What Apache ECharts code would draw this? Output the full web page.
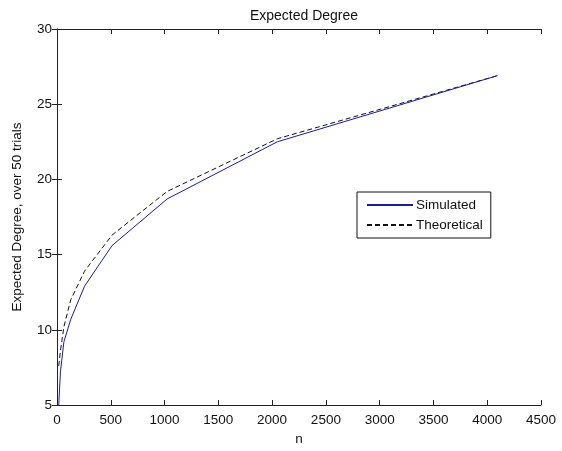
<!DOCTYPE html>
<html>
<head>
<meta charset="utf-8">
<script src="https://cdn.jsdelivr.net/npm/echarts@6/dist/echarts.min.js"></script>
<style>
  html, body { margin: 0; padding: 0; background: #fff; }
  #chart { width: 562px; height: 451px; }
</style>
</head>
<body>
<div id="chart"></div>
<script>
// n values (graph sizes) and the two curves
const nValues = [16, 32, 64, 128, 256, 512, 1024, 2048, 4096];
const simulated = [5.0, 7.2, 9.2, 10.7, 12.9, 15.6, 18.7, 22.5, 26.9];
const theoretical = [7.6, 8.6, 10.2, 12.0, 13.9, 16.3, 19.2, 22.7, 26.9];

const xTicks = { min: 0, max: 4500, interval: 500 };
const yTicks = { min: 5, max: 30, interval: 5 };

const font = "'Liberation Sans', Arial, sans-serif";
const axisColor = "#222";

const chart = echarts.init(document.getElementById("chart"));

// MATLAB-style box: ticks inside on all four sides
const baseAxis = {
  axisLine: { show: true, lineStyle: { color: axisColor, width: 1 } },
  axisTick: { show: true, inside: true, length: 5, lineStyle: { color: axisColor } },
  splitLine: { show: false },
};

chart.setOption({
  animation: false,
  backgroundColor: "#fff",
  title: {
    text: "Expected Degree",
    left: 299,
    top: 4,
    textAlign: "center",
    textStyle: { fontFamily: font, fontSize: 14, fontWeight: "normal", color: "#111" },
  },
  grid: { left: 57, right: 21, top: 29, bottom: 42 },
  legend: {
    orient: "vertical",
    left: 357,
    top: 192,
    padding: [6, 8, 6, 9],
    itemGap: 6,
    itemWidth: 46,
    itemHeight: 14,
    itemStyle: { opacity: 0 },
    backgroundColor: "#fff",
    borderColor: "#111",
    borderWidth: 1,
    borderRadius: 0,
    textStyle: { fontFamily: font, fontSize: 13.5, color: "#111", padding: [0, 0, 0, -2] },
    data: ["Simulated", "Theoretical"],
  },
  xAxis: [
    {
      ...baseAxis,
      type: "value",
      ...xTicks,
      name: "n",
      nameLocation: "middle",
      nameGap: 27,
      nameTextStyle: { fontFamily: font, fontSize: 13.5, color: "#111" },
      axisLabel: { fontFamily: font, fontSize: 13.5, color: "#111", margin: 8, formatter: (v) => String(v) },
    },
    {
      ...baseAxis,
      type: "value",
      ...xTicks,
      position: "top",
      axisLabel: { show: false },
    },
  ],
  yAxis: [
    {
      ...baseAxis,
      type: "value",
      ...yTicks,
      name: "Expected Degree, over 50 trials",
      nameLocation: "middle",
      nameGap: 33,
      nameTextStyle: { fontFamily: font, fontSize: 13.5, color: "#111" },
      axisLabel: { fontFamily: font, fontSize: 13.5, color: "#111", margin: 5, formatter: (v) => String(v) },
    },
    {
      ...baseAxis,
      type: "value",
      ...yTicks,
      position: "right",
      axisLabel: { show: false },
    },
  ],
  series: [
    {
      name: "Simulated",
      type: "line",
      symbol: "none",
      data: nValues.map((n, i) => [n, simulated[i]]),
      lineStyle: { color: "#1c1c9a", width: 1 },
      itemStyle: { color: "#1c1c9a" },
      z: 3,
    },
    {
      name: "Theoretical",
      type: "line",
      symbol: "none",
      data: nValues.map((n, i) => [n, theoretical[i]]),
      lineStyle: { color: "#111", width: 1, type: [5, 3] },
      itemStyle: { color: "#111" },
      z: 2,
    },
  ],
});
</script>
</body>
</html>
